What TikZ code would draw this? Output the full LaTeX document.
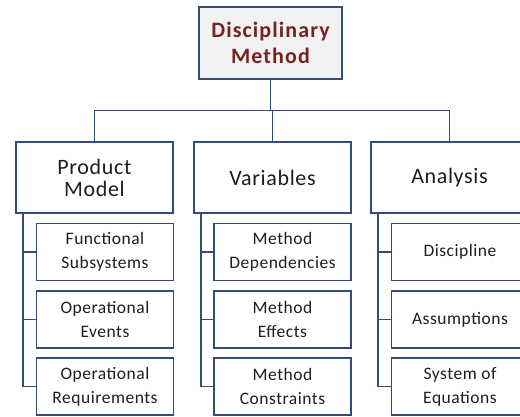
\documentclass[tikz,border=0pt]{standalone}
\usepackage{fontspec}
\setmainfont{Carlito}
\usepackage{xcolor}
\usepackage{tikz}
\usetikzlibrary{shapes}
\usetikzlibrary{arrows}

\definecolor{navy}{RGB}{52,76,122}
\definecolor{darkred}{RGB}{118,34,34}
\definecolor{boxgray}{RGB}{242,242,242}
\definecolor{txt}{RGB}{30,30,30}

\begin{document}
\begin{tikzpicture}[x=1pt, y=-1pt,
        box/.style = {draw = navy, line width = 1.7pt, fill = white, align = center,
            inner sep = 0pt, text = txt},
        topbox/.style = {box, fill = boxgray, text = darkred, minimum width = 143pt,
            minimum height = 72pt,
            font = \addfontfeatures{LetterSpace=5}\fontsize{22}{26}\selectfont\bfseries},
        midbox/.style = {box, minimum width = 157pt, minimum height = 71pt,
            font = \addfontfeatures{LetterSpace=3}\fontsize{22}{22}\selectfont},
        subbox/.style = {box, minimum width = 137pt, minimum height = 57pt,
            font = \addfontfeatures{LetterSpace=3}\fontsize{17.5}{24}\selectfont},
        link/.style = {draw = navy, line width = 1.7pt}]
        \useasboundingbox (0, 0) rectangle (520, 416);
        \clip (0, 0) rectangle (520, 416);

        \node[topbox] (dm) at (270.5, 43) {Disciplinary\\Method};

        \node[midbox] (pm) at (94.5, 177.5) {Product\\Model};
        \node[midbox] (var) at (272.5, 177.5) {Variables};
        \node[midbox] (ana) at (449.5, 177.5) {Analysis};

        \node[subbox] (pm1) at (105, 252) {Functional\\Subsystems};
        \node[subbox] (pm2) at (105, 319.5) {Operational\\Events};
        \node[subbox] (pm3) at (105, 386.5) {Operational\\Requirements};

        \node[subbox] (var1) at (282.5, 252) {Method\\Dependencies};
        \node[subbox] (var2) at (282.5, 319.5) {Method\\Effects};
        \node[subbox] (var3) at (282.5, 386.5) {Method\\Constraints};

        \node[subbox] (ana1) at (460, 252) {Discipline};
        \node[subbox] (ana2) at (460, 319.5) {Assumptions};
        \node[subbox] (ana3) at (460, 386.5) {System of\\Equations};

        \coordinate (bus) at (0, 110.5);
        \draw[link] (dm.south) -- (dm.south |- bus);
        \draw[link] (pm.north) -- (pm.north |- bus) -- (ana.north |- bus) -- (ana.north);
        \draw[link] (var.north) -- (var.north |- bus);

        \foreach \p in {pm, var, ana} {
            \draw[link] ([xshift = 8pt]\p.south west) |- (\p3.west);
            \draw[link] ([xshift = 8pt]\p.south west |- \p1.west) -- (\p1.west);
            \draw[link] ([xshift = 8pt]\p.south west |- \p2.west) -- (\p2.west);
        }
\end{tikzpicture}
\end{document}
